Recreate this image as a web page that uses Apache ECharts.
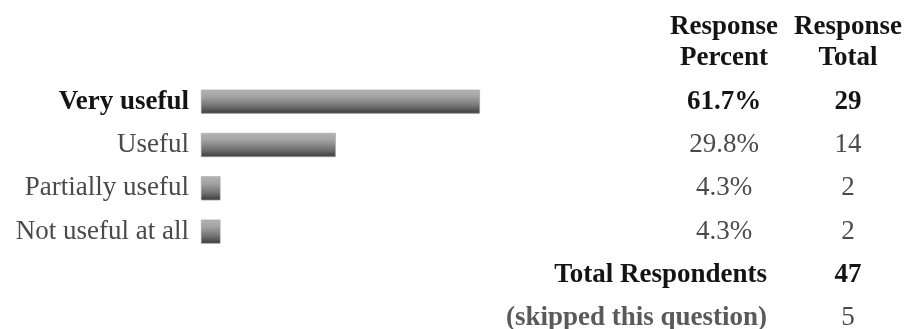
<!DOCTYPE html>
<html>
<head>
<meta charset="utf-8">
<script src="https://cdn.jsdelivr.net/npm/echarts@6/dist/echarts.min.js"></script>
<style>
  html, body { margin: 0; padding: 0; background: #fff; }
  #chart { width: 905px; height: 329px; }
</style>
</head>
<body>
<div id="chart"></div>
<script>
// Survey answers and their tallies
const answers = ['Very useful', 'Useful', 'Partially useful', 'Not useful at all'];
const responsePercent = [61.7, 29.8, 4.3, 4.3];
const responseTotal = [29, 14, 2, 2];
const totalRespondents = 47;
const skippedQuestion = 5;
const footerLabels = ['Total Respondents', '(skipped this question)'];
const headerPercent = 'Response\nPercent';
const headerTotal = 'Response\nTotal';

const FONT = '"Liberation Serif", "Times New Roman", serif';
const DARK = '#141414';
const GREY = '#4a4a4a';

// the most chosen answer is emphasised in bold
const topIndex = responsePercent.indexOf(Math.max(...responsePercent));
const rowStyle = (i, align) => Object.assign(
  i === topIndex ? { fontWeight: 'bold', color: DARK } : { fontWeight: 'normal', color: GREY },
  align ? { align: align } : {}
);

// six rows: four answers plus two summary rows
const leftCats = answers.map((a, i) => ({ value: a, textStyle: rowStyle(i, 'right') }))
  .concat([{ value: '' }, { value: '' }]);
const pctCats = responsePercent.map((p, i) => ({ value: p.toFixed(1) + '%', textStyle: rowStyle(i, 'center') }))
  .concat([{ value: ' ' }, { value: '  ' }]);
const totCats = responseTotal.map((t, i) => ({ value: String(t), textStyle: rowStyle(i, 'center') }))
  .concat([
    { value: String(totalRespondents), textStyle: { fontWeight: 'bold', color: DARK, align: 'center' } },
    { value: String(skippedQuestion), textStyle: { fontWeight: 'normal', color: GREY, align: 'center' } }
  ]);
const footCats = ['a', 'b', 'c', 'd'].map(k => ({ value: k, textStyle: { color: 'rgba(0,0,0,0)', align: 'right' } }))
  .concat([
    { value: footerLabels[0], textStyle: { fontWeight: 'bold', color: DARK, align: 'right' } },
    { value: footerLabels[1], textStyle: { fontWeight: 'bold', color: '#5a5a5a', align: 'right' } }
  ]);

const barValues = responsePercent.concat([null, null]);

const hiddenAxisParts = {
  axisLine: { show: false },
  axisTick: { show: false },
  splitLine: { show: false }
};

const chart = echarts.init(document.getElementById('chart'), null, { renderer: 'canvas' });

chart.setOption({
  animation: false,
  textStyle: { fontFamily: FONT },
  grid: {
    left: 201, top: 80, width: 452, height: 260,
    containLabel: false, outerBoundsMode: 'none'
  },
  xAxis: {
    type: 'value', min: 0, max: 100, show: false
  },
  yAxis: [
    {
      type: 'category', inverse: true, position: 'left',
      data: leftCats, ...hiddenAxisParts,
      axisLabel: { margin: 12, align: 'right', fontSize: 27, fontFamily: FONT, color: GREY }
    },
    {
      type: 'category', inverse: true, position: 'right',
      data: pctCats, ...hiddenAxisParts,
      axisLabel: { margin: 71, align: 'center', fontSize: 27, fontFamily: FONT, color: GREY }
    },
    {
      type: 'category', inverse: true, position: 'right',
      data: totCats, ...hiddenAxisParts,
      axisLabel: { margin: 195, align: 'center', fontSize: 27, fontFamily: FONT, color: GREY }
    },
    {
      type: 'category', inverse: true, position: 'right',
      data: footCats, ...hiddenAxisParts,
      axisLabel: { margin: 114, align: 'right', fontSize: 27, fontFamily: FONT, color: GREY }
    }
  ],
  graphic: [
    {
      type: 'text', x: 724, y: 43,
      style: {
        text: headerPercent, align: 'center', verticalAlign: 'middle',
        font: 'bold 27px ' + FONT, fill: DARK, lineHeight: 31
      }
    },
    {
      type: 'text', x: 848, y: 43,
      style: {
        text: headerTotal, align: 'center', verticalAlign: 'middle',
        font: 'bold 27px ' + FONT, fill: DARK, lineHeight: 31
      }
    }
  ],
  series: [
    {
      type: 'bar',
      yAxisIndex: 0,
      data: barValues,
      barWidth: 24,
      itemStyle: {
        color: new echarts.graphic.LinearGradient(0, 0, 0, 1, [
          { offset: 0, color: '#b4b4b4' },
          { offset: 0.3, color: '#a2a2a2' },
          { offset: 0.7, color: '#707070' },
          { offset: 0.93, color: '#464646' },
          { offset: 1, color: '#5a5a5a' }
        ]),
        borderColor: '#9a9a9a',
        borderWidth: 0.5
      },
      silent: true
    }
  ]
});
</script>
</body>
</html>
